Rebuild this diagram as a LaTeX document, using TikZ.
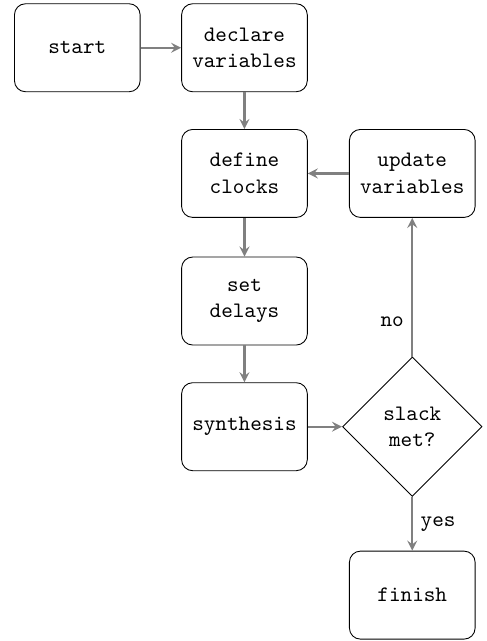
\documentclass[tikz,border=0pt]{standalone}
\usetikzlibrary{shapes.geometric}
\tikzset{
    stepbox/.style={draw,rounded corners=5pt,minimum width=2cm,minimum height=1.4cm,align=center,font=\ttfamily},
    testbox/.style={draw,diamond,aspect=1,minimum size=2.22cm,inner sep=0pt,align=center,font=\ttfamily},
    flow/.style={->,draw=gray,line width=1pt}
}
\begin{document}
\begin{tikzpicture}[>=stealth]
\useasboundingbox (0,0) rectangle (7.74,-10.2);
\node[stepbox] (start) at (1.23,-0.76) {start};
\node[stepbox] (declare) at (3.89,-0.76) {declare\\variables};
\node[stepbox] (clocks) at (3.89,-2.76) {define\\clocks};
\node[stepbox] (update) at (6.56,-2.76) {update\\variables};
\node[stepbox] (delays) at (3.89,-4.79) {set\\delays};
\node[stepbox] (synth) at (3.89,-6.79) {synthesis};
\node[testbox] (slack) at (6.56,-6.79) {slack\\met?};
\node[stepbox] (finish) at (6.56,-9.47) {finish};

\draw[flow] (start)--(declare);
\draw[flow] (declare)--(clocks);
\draw[flow] (clocks)--(delays);
\draw[flow] (delays)--(synth);
\draw[flow] (synth)--(slack);
\draw[flow] (slack)--node[pos=.25,left]{\texttt{no}}(update);
\draw[flow] (update)--(clocks);
\draw[flow] (slack)--node[right]{\texttt{yes}}(finish);
\end{tikzpicture}
\end{document}
